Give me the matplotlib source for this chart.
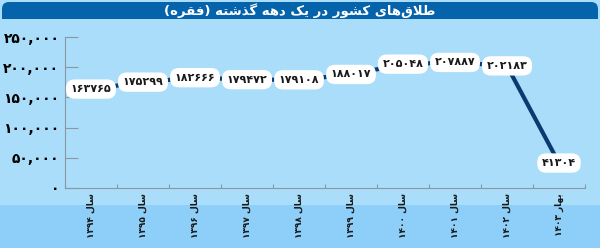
import matplotlib.pyplot as plt
from matplotlib.patches import FancyBboxPatch, Rectangle
from matplotlib.ticker import FuncFormatter
import matplotlib.transforms as mtransforms

years = ['سال ۱۳۹۴', 'سال ۱۳۹۵', 'سال ۱۳۹۶', 'سال ۱۳۹۷', 'سال ۱۳۹۸',
         'سال ۱۳۹۹', 'سال ۱۴۰۰', 'سال ۱۴۰۱', 'سال ۱۴۰۲', 'بهار ۱۴۰۳']
divorces = [163765, 175299, 182666, 179472, 179108,
            188017, 205048, 207887, 202183, 41304]
title = 'طلاق‌های کشور در یک دهه گذشته (فقره)'

# presentation forms: isolated, final, initial, medial
FORMS = {
    'ا': ('\uFE8D', '\uFE8E', None, None),
    'ب': ('\uFE8F', '\uFE90', '\uFE91', '\uFE92'),
    'ت': ('\uFE95', '\uFE96', '\uFE97', '\uFE98'),
    'د': ('\uFEA9', '\uFEAA', None, None),
    'ذ': ('\uFEAB', '\uFEAC', None, None),
    'ر': ('\uFEAD', '\uFEAE', None, None),
    'س': ('\uFEB1', '\uFEB2', '\uFEB3', '\uFEB4'),
    'ش': ('\uFEB5', '\uFEB6', '\uFEB7', '\uFEB8'),
    'ط': ('\uFEC1', '\uFEC2', '\uFEC3', '\uFEC4'),
    'ف': ('\uFED1', '\uFED2', '\uFED3', '\uFED4'),
    'ق': ('\uFED5', '\uFED6', '\uFED7', '\uFED8'),
    'ل': ('\uFEDD', '\uFEDE', '\uFEDF', '\uFEE0'),
    'ه': ('\uFEE9', '\uFEEA', '\uFEEB', '\uFEEC'),
    'و': ('\uFEED', '\uFEEE', None, None),
    'ک': ('\uFB8E', '\uFB8F', '\uFB90', '\uFB91'),
    'گ': ('\uFB92', '\uFB93', '\uFB94', '\uFB95'),
    'ی': ('\uFBFC', '\uFBFD', '\uFBFE', '\uFBFF'),
}
DIGITS = set('۰۱۲۳۴۵۶۷۸۹0123456789,')


def joins_next(c):
    return c in FORMS and FORMS[c][2] is not None


def shape(text):
    # matplotlib has no arabic shaping / bidi, do it by hand
    out = []
    i = 0
    while i < len(text):
        c = text[i]
        prev = text[i - 1] if i > 0 else ''
        nxt = text[i + 1] if i + 1 < len(text) else ''
        if c == '\u200c':
            i += 1
            continue
        if c == 'ل' and nxt == 'ا':
            out.append('\uFEFC' if joins_next(prev) else '\uFEFB')
            i += 2
            continue
        if c in FORMS:
            a, b = joins_next(prev), joins_next(c) and nxt in FORMS
            iso, fin, ini, med = FORMS[c]
            out.append(med if a and b else fin if a else ini if b else iso)
        else:
            out.append(c)
        i += 1
    vis = ''.join(out)[::-1]
    vis = vis.replace('(', '\0').replace(')', '(').replace('\0', ')')
    res, run = '', ''
    for ch in vis:
        if ch in DIGITS:
            run += ch
        else:
            res += run[::-1] + ch
            run = ''
    return res + run[::-1]


def fa_num(v, sep=False):
    s = f'{int(v):,}' if sep else str(int(v))
    return s.translate(str.maketrans('0123456789', '۰۱۲۳۴۵۶۷۸۹'))


plt.rcParams['font.family'] = 'DejaVu Sans'

fig = plt.figure(figsize=(6, 2.48), dpi=100, facecolor='#a9ddfa')
fig.patches.append(Rectangle((0, 0), 1, 43 / 248, transform=fig.transFigure,
                             fc='#8dcff8', ec='none', zorder=0))
fig.patches.append(FancyBboxPatch((0.02, 2.0), 5.96, 0.46,
                                  boxstyle='round,pad=0,rounding_size=0.07',
                                  transform=fig.dpi_scale_trans,
                                  fc='#0563ab', ec='none', zorder=0))
fig.patches.append(Rectangle((0, 1.9), 6, 0.39, transform=fig.dpi_scale_trans,
                             fc='#a9ddfa', ec='none', zorder=0.5))
fig.text(0.5, 0.958, shape(title), color='white', fontsize=9.5,
         fontweight='bold', ha='center', va='center')

ax = fig.add_axes([65 / 600, 60 / 248, 520 / 600, 151 / 248], zorder=1)
ax.set_facecolor('none')
x = list(range(len(years)))
ax.plot(x, divorces, color='#0b3a70', lw=3, zorder=2)
for xi, v in zip(x, divorces):
    ax.text(xi, v, fa_num(v), ha='center', va='center', fontsize=8,
            fontweight='bold', color='#1a1a1a', zorder=3,
            bbox=dict(boxstyle='round,pad=0.42,rounding_size=0.8',
                      fc='white', ec='none'))

ax.set_xlim(-0.5, len(years) - 0.5)
ax.set_ylim(0, 250000)
ax.set_yticks(range(0, 250001, 50000))
ax.yaxis.set_major_formatter(FuncFormatter(lambda v, p: fa_num(v, True)))
ax.tick_params(axis='y', direction='in', length=9, color='#8a98a4',
               labelsize=10, pad=4)
for lab in ax.get_yticklabels():
    lab.set_fontweight('bold')
ax.set_xticks([i - 0.5 for i in range(len(years) + 1)])
ax.set_xticklabels([])
ax.tick_params(axis='x', direction='in', length=3, color='#8a98a4')
for s in ['top', 'right']:
    ax.spines[s].set_visible(False)
for s in ['left', 'bottom']:
    ax.spines[s].set_color('#8a98a4')

trans = mtransforms.blended_transform_factory(ax.transData, ax.transAxes)
for xi, lab in zip(x, years):
    ax.text(xi, -0.035, shape(lab), transform=trans, rotation=90,
            ha='center', va='top', fontsize=6.5, fontweight='bold',
            color='#1a1a1a')

fig.savefig('out.png', dpi=100, facecolor=fig.get_facecolor())
